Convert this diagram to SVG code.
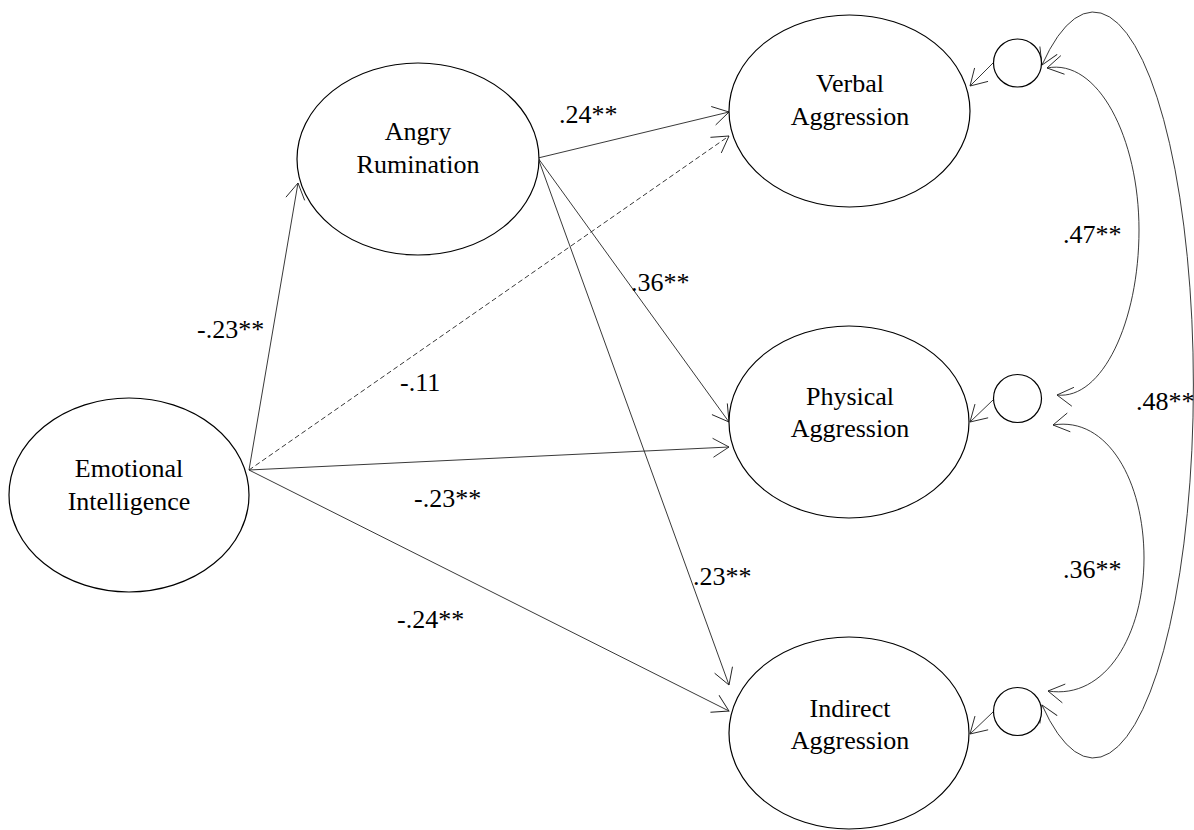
<svg xmlns="http://www.w3.org/2000/svg" width="1194" height="830" viewBox="0 0 1194 830">
<style>
.node{fill:#fff;stroke:#000;stroke-width:1.2}
.err{fill:#fff;stroke:#000;stroke-width:1.2}
.t{font-family:"Liberation Serif","Times New Roman",serif;font-size:26px;fill:#000;text-anchor:middle}
.lbl{font-family:"Liberation Serif","Times New Roman",serif;font-size:26px;fill:#000}
.c{fill:none;stroke:#222;stroke-width:0.9}
.d{stroke-dasharray:5,3}
</style>
<defs>
<marker id="arr" markerUnits="userSpaceOnUse" markerWidth="24" markerHeight="24" viewBox="-20 -12 24 24" refX="0" refY="0" orient="auto-start-reverse">
<path d="M-16,-9.5 L0,0 L-16,9.5" fill="none" stroke="#222" stroke-width="0.9"/>
</marker>
</defs>
<rect width="1194" height="830" fill="#fff"/>
<g id="connectors">
<line class="c" x1="249" y1="470" x2="298" y2="183" marker-end="url(#arr)"/>
<line class="c d" x1="249" y1="470" x2="729" y2="136" marker-end="url(#arr)"/>
<line class="c" x1="249" y1="470" x2="729" y2="447" marker-end="url(#arr)"/>
<line class="c" x1="249" y1="470" x2="729" y2="711" marker-end="url(#arr)"/>
<line class="c" x1="538" y1="158" x2="729" y2="112" marker-end="url(#arr)"/>
<line class="c" x1="538" y1="158" x2="729" y2="422" marker-end="url(#arr)"/>
<line class="c" x1="538" y1="158" x2="729" y2="685" marker-end="url(#arr)"/>
<line class="c" x1="993" y1="63" x2="970" y2="86" marker-end="url(#arr)"/>
<line class="c" x1="993" y1="400" x2="970" y2="422" marker-end="url(#arr)"/>
<line class="c" x1="993" y1="712" x2="970" y2="734" marker-end="url(#arr)"/>
<path class="c" d="M1047,68 C1098,58 1139,138 1139,230 C1139,322 1102,400 1057,395" marker-start="url(#arr)" marker-end="url(#arr)"/>
<path class="c" d="M1053,425 C1108,416 1144,482 1144,558 C1144,634 1106,700 1048,691" marker-start="url(#arr)" marker-end="url(#arr)"/>
<path class="c" d="M1042,65 A100,373 0 1,1 1042,705" marker-start="url(#arr)" marker-end="url(#arr)"/>
</g>
<g id="labels">
<text class="lbl" x="197" y="338">-.23**</text>
<text class="lbl" x="400" y="391">-.11</text>
<text class="lbl" x="414" y="507">-.23**</text>
<text class="lbl" x="397" y="628">-.24**</text>
<text class="lbl" x="559" y="123">.24**</text>
<text class="lbl" x="631" y="291">.36**</text>
<text class="lbl" x="693" y="585">.23**</text>
<text class="lbl" x="1063" y="243">.47**</text>
<text class="lbl" x="1136" y="410">.48**</text>
<text class="lbl" x="1063" y="578">.36**</text>
</g>
<g id="emotional-intelligence">
<ellipse class="node" cx="129" cy="495" rx="120" ry="97"/>
<text class="t" x="129" y="477">Emotional</text>
<text class="t" x="129" y="510">Intelligence</text>
</g>
<g id="angry-rumination">
<ellipse class="node" cx="418" cy="159" rx="121" ry="96"/>
<text class="t" x="418" y="140">Angry</text>
<text class="t" x="418" y="173">Rumination</text>
</g>
<g id="verbal-aggression">
<ellipse class="node" cx="849.5" cy="111" rx="120.5" ry="96"/>
<text class="t" x="850" y="92">Verbal</text>
<text class="t" x="850" y="125">Aggression</text>
</g>
<g id="physical-aggression">
<ellipse class="node" cx="849" cy="422" rx="120" ry="96"/>
<text class="t" x="850" y="405">Physical</text>
<text class="t" x="850" y="437">Aggression</text>
</g>
<g id="indirect-aggression">
<ellipse class="node" cx="849" cy="733" rx="120" ry="96"/>
<text class="t" x="850" y="717">Indirect</text>
<text class="t" x="850" y="749">Aggression</text>
</g>
<g id="e1"><circle class="err" cx="1017.5" cy="63" r="24"/></g>
<g id="e2"><circle class="err" cx="1017.5" cy="398.5" r="24"/></g>
<g id="e3"><circle class="err" cx="1017.5" cy="711.5" r="24"/></g>
</svg>
